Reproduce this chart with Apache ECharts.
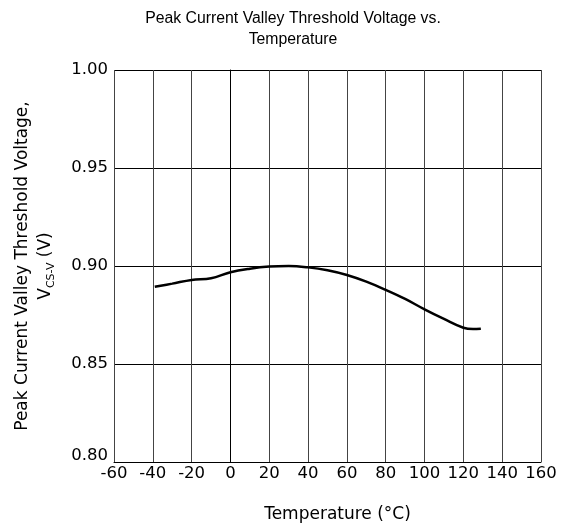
<!DOCTYPE html>
<html><head><meta charset="utf-8">
<script src="https://cdn.jsdelivr.net/npm/echarts@6/dist/echarts.min.js"></script>
<style>html,body{margin:0;padding:0;background:#fff}#c{width:569px;height:529px}</style>
</head><body><div id="c"></div>
<script>
const temperature = [-39, -30, -20, -10, 0, 10, 20, 30, 40, 50, 60, 70, 80, 90, 100, 110, 120, 125, 129];
const vcsv = [0.8894, 0.8910, 0.8929, 0.8937, 0.8968, 0.8986, 0.8997, 0.9000, 0.8993, 0.8978, 0.8954, 0.8920, 0.8878, 0.8832, 0.8779, 0.8730, 0.8685, 0.8678, 0.8680];
const xTicks = [-60, -40, -20, 0, 20, 40, 60, 80, 100, 120, 140, 160];
const yTicks = [0.80, 0.85, 0.90, 0.95, 1.00];
const font = 'Liberation Sans, Arial, sans-serif';
const afont = 'DejaVu Sans, sans-serif';
const chart = echarts.init(document.getElementById('c'));
chart.setOption({
  animation: false,
  title: {
    text: 'Peak Current Valley Threshold Voltage vs.\nTemperature',
    left: 288, top: 3, textAlign: 'center',
    textStyle: {fontFamily: font, fontSize: 15.8, fontWeight: 'normal', color: '#000', lineHeight: 21}
  },
  grid: {left: 114, right: 28, top: 70, bottom: 67},
  xAxis: {
    type: 'value', min: xTicks[0], max: xTicks[xTicks.length-1], interval: 20,
    name: 'Temperature (°C)', nameLocation: 'middle', nameGap: 44,
    nameTextStyle: {fontFamily: afont, fontSize: 17, color: '#000', padding: [0, 0, 0, 20]},
    axisLine: {show: true, lineStyle: {color: '#000', width: 1}},
    axisTick: {show: false},
    axisLabel: {fontFamily: afont, fontSize: 16.5, color: '#000', margin: 3},
    splitLine: {show: true, lineStyle: {color: '#444', width: 1}}
  },
  yAxis: {
    type: 'value', min: yTicks[0], max: yTicks[yTicks.length-1], interval: 0.05,
    name: 'Peak Current Valley Threshold Voltage,\n{v|V}{s|CS-V}{v| (V)}',
    nameLocation: 'middle', nameRotate: 90, nameGap: 60,
    nameTextStyle: {fontFamily: afont, fontSize: 17, color: '#000', lineHeight: 21,
      rich: {v: {fontFamily: afont, fontSize: 17, color: '#000', lineHeight: 21, verticalAlign: 'bottom'},
             s: {fontFamily: afont, fontSize: 11, color: '#000', lineHeight: 21, verticalAlign: 'bottom', padding: [0,0,-3,0]}}},
    axisLine: {show: true, lineStyle: {color: '#000', width: 1}},
    axisTick: {show: false},
    axisLabel: {fontFamily: afont, fontSize: 16.5, color: '#000', margin: 6,
      formatter: v => Math.abs(v - 0.8) < 1e-9 ? '{lo|0.80}' : v.toFixed(2),
      rich: {lo: {fontFamily: afont, fontSize: 16.5, color: '#000', padding: [0,0,13,0]}}},
    splitLine: {show: true, lineStyle: {color: '#000', width: 1}}
  },
  series: [{
    type: 'line', smooth: 0.4, showSymbol: false,
    data: temperature.map((t, i) => [t, vcsv[i]]),
    lineStyle: {color: '#000', width: 2.5}
  }]
});
</script>
</body></html>
